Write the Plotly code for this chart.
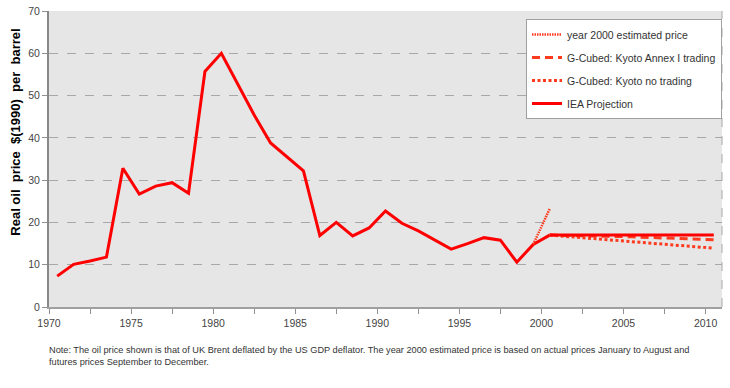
import plotly.graph_objects as go

# Historical real oil price, $(1990) per barrel (mid-year points)
hist_years = [1970.5, 1971.5, 1972.5, 1973.5, 1974.5, 1975.5, 1976.5, 1977.5, 1978.5, 1979.5,
              1980.5, 1981.5, 1982.5, 1983.5, 1984.5, 1985.5, 1986.5, 1987.5, 1988.5, 1989.5,
              1990.5, 1991.5, 1992.5, 1993.5, 1994.5, 1995.5, 1996.5, 1997.5, 1998.5, 1999.5,
              2000.5]
hist_price = [7.3, 10.1, 10.9, 11.8, 32.8, 26.7, 28.6, 29.4, 26.9, 55.7,
              60.0, 52.8, 45.4, 38.8, 35.5, 32.2, 16.9, 20.0, 16.8, 18.7,
              22.7, 19.8, 18.0, 15.9, 13.7, 15.0, 16.4, 15.8, 10.6, 14.8,
              17.0]

est_years = [1999.5, 2000.5]
est_price = [14.8, 23.2]

proj_years = [2000.5, 2005.5, 2010.5]
iea_price = [17.0, 17.0, 17.0]
annex_price = [17.0, 16.6, 15.9]
notrade_price = [17.0, 15.4, 13.9]

x_ticks = [1970, 1975, 1980, 1985, 1990, 1995, 2000, 2005, 2010]
y_ticks = [0, 10, 20, 30, 40, 50, 60, 70]

FONT = "Liberation Sans, Arial, sans-serif"
RED = "#FF0000"
ORANGE = "#FF3B1F"

fig = go.Figure()
fig.add_trace(go.Scatter(x=hist_years, y=hist_price, mode="lines",
                         line=dict(color=RED, width=3), showlegend=False))
fig.add_trace(go.Scatter(x=est_years, y=est_price, mode="lines", name="year 2000 estimated price",
                         legendgroup="a",
                         line=dict(color=ORANGE, width=2.5, dash="1.5px,1px")))
fig.add_trace(go.Scatter(x=proj_years, y=annex_price, mode="lines", name="G-Cubed: Kyoto Annex I trading",
                         legendgroup="b",
                         line=dict(color=ORANGE, width=3, dash="8px,5px")))
fig.add_trace(go.Scatter(x=proj_years, y=notrade_price, mode="lines", name="G-Cubed: Kyoto no trading",
                         legendgroup="c",
                         line=dict(color=ORANGE, width=3, dash="3px,2.5px")))
fig.add_trace(go.Scatter(x=proj_years, y=iea_price, mode="lines", name="IEA Projection",
                         legendgroup="d",
                         line=dict(color=RED, width=3)))

fig.update_layout(
    width=730, height=388,
    margin=dict(l=49, r=8, t=11, b=81, autoexpand=False),
    paper_bgcolor="white",
    plot_bgcolor="#E6E6E6",
    font=dict(family=FONT, size=10, color="#444444"),
    legend=dict(x=1, y=0.973, xanchor="right", yanchor="top",
                bgcolor="white", bordercolor="#A0A0A0", borderwidth=1,
                tracegroupgap=4, entrywidth=160, entrywidthmode="pixels",
                font=dict(family=FONT, size=10.5, color="#333333")),
    xaxis=dict(range=[1970, 2011], tickvals=x_ticks, showgrid=False,
               showline=True, linecolor="#A0A0A0", linewidth=2,
               ticks="outside", ticklen=5, tickcolor="#909090",
               tickfont=dict(size=10.5),
               minor=dict(dtick=2.5, tick0=1970, ticks="outside", ticklen=5, tickcolor="#909090"),
               zeroline=False, fixedrange=True),
    yaxis=dict(range=[0, 70], tickvals=y_ticks, showgrid=True, gridcolor="#A8A8A8",
               griddash="dash", gridwidth=1,
               showline=True, linecolor="#888888", linewidth=2,
               ticks="outside", ticklen=5, tickcolor="#909090",
               tickfont=dict(size=10.5),
               zeroline=False, fixedrange=True),
    shapes=[dict(type="line", xref="paper", yref="paper", x0=1, x1=1, y0=0, y1=1,
                 line=dict(color="#A8A8A8", width=1, dash="dash"))],
    annotations=[
        dict(text="Real oil\u00a0 price\u00a0 $(1990)\u00a0 per\u00a0 barrel", textangle=-90,
             xref="paper", yref="paper", x=-0.05, y=0.59, xanchor="center", yanchor="middle",
             showarrow=False, font=dict(family=FONT, size=13, color="black", weight="bold")),
        dict(text="Note: The oil price shown is that of UK Brent deflated by the US GDP deflator. "
                  "The year 2000 estimated price is based on actual prices January to August and<br>"
                  "futures prices September to December.",
             xref="paper", yref="paper", x=-0.003, y=-0.122, xanchor="left", yanchor="top",
             align="left", showarrow=False,
             font=dict(family=FONT, size=9.2, color="#333333")),
    ],
)

# Remove the page's default 8px body margin so the 730x388 figure fills the window.
fig.write_html("out.html", config={"displayModeBar": False},
               post_script="document.body.style.margin='0';")
